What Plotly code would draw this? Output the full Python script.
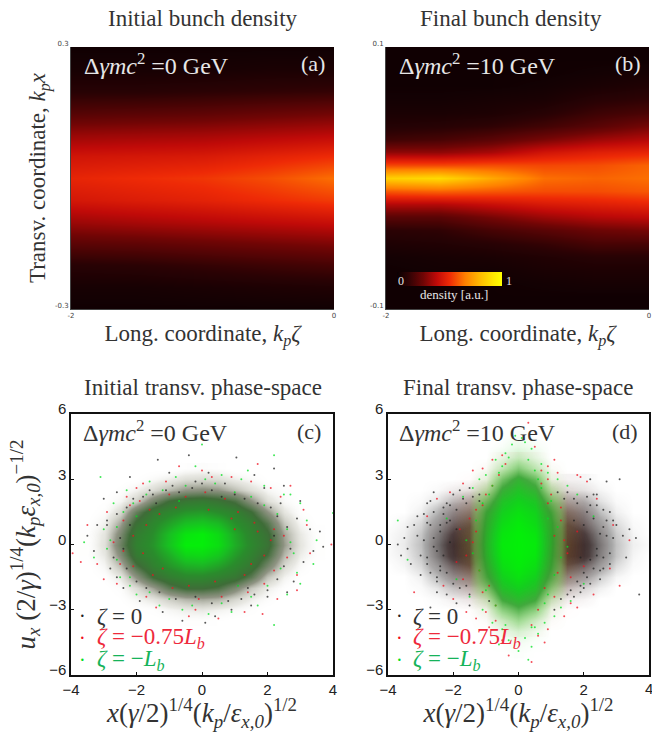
import plotly.graph_objects as go

W, H = 652, 732

# ---------- data ----------
a_zeta = [-2, -1.5, -1, -0.5, 0]
a_x = [0.30, 0.25, 0.20, 0.15, 0.10, 0.05, 0.00, -0.05, -0.10, -0.15, -0.20, -0.25, -0.30]
a_density = [
    [.02, .02, .02, .02, .02],
    [.04, .04, .04, .05, .05],
    [.09, .09, .10, .11, .12],
    [.19, .20, .21, .23, .25],
    [.31, .32, .33, .35, .37],
    [.42, .43, .44, .47, .50],
    [.48, .50, .52, .56, .62],
    [.43, .45, .47, .50, .53],
    [.32, .34, .36, .38, .40],
    [.20, .21, .23, .25, .27],
    [.09, .10, .12, .14, .16],
    [.04, .04, .05, .06, .07],
    [.02, .02, .02, .02, .02],
]

b_zeta = [-2, -1.6, -1.2, -0.8, -0.4, 0]
b_x = [0.10, 0.09, 0.08, 0.07, 0.06, 0.05, 0.04, 0.03, 0.02, 0.01, 0.00,
       -0.01, -0.02, -0.03, -0.04, -0.05, -0.06, -0.07, -0.08, -0.09, -0.10]
b_density = [
    [.02, .02, .02, .02, .02, .02],
    [.02, .02, .02, .02, .02, .02],
    [.02, .02, .02, .02, .03, .04],
    [.02, .02, .02, .03, .05, .07],
    [.03, .03, .04, .05, .09, .11],
    [.05, .05, .06, .09, .14, .17],
    [.08, .09, .11, .15, .20, .26],
    [.14, .16, .20, .26, .32, .36],
    [.30, .30, .34, .42, .46, .48],
    [.55, .55, .56, .55, .56, .60],
    [.85, .88, .75, .62, .60, .62],
    [.58, .60, .58, .56, .56, .58],
    [.36, .36, .40, .44, .46, .48],
    [.20, .20, .26, .32, .36, .38],
    [.10, .11, .16, .20, .24, .26],
    [.06, .07, .09, .12, .16, .16],
    [.03, .04, .05, .07, .09, .09],
    [.02, .03, .03, .05, .06, .06],
    [.02, .02, .02, .03, .04, .04],
    [.02, .02, .02, .02, .02, .02],
    [.02, .02, .02, .02, .02, .02],
]

c_grid_x = [-3.5, -3, -2.5, -2, -1.5, -1, -.5, 0, .5, 1, 1.5, 2, 2.5, 3, 3.5]
c_grid_y = [3.5, 3, 2.5, 2, 1.5, 1, .5, 0, -.5, -1, -1.5, -2, -2.5, -3, -3.5]
c_density = [
    [0, 0, 0, 0, 0, 0, .02, .03, .02, 0, 0, 0, 0, 0, 0],
    [0, 0, 0, .01, .04, .07, .11, .12, .11, .07, .04, .01, 0, 0, 0],
    [0, 0, .02, .06, .12, .19, .25, .27, .25, .18, .11, .05, .02, 0, 0],
    [0, .01, .05, .14, .32, .46, .52, .54, .50, .42, .26, .11, .04, .01, 0],
    [0, .03, .12, .36, .54, .62, .68, .70, .65, .58, .46, .26, .09, .02, 0],
    [.01, .06, .22, .48, .62, .72, .82, .85, .80, .66, .56, .40, .16, .05, .01],
    [.02, .09, .30, .56, .66, .82, .96, 1, .92, .74, .60, .48, .22, .08, .02],
    [.02, .10, .34, .58, .68, .84, 1, 1, .94, .76, .62, .50, .24, .09, .02],
    [.02, .08, .28, .54, .64, .76, .90, .92, .85, .70, .58, .44, .19, .07, .02],
    [0, .05, .18, .42, .58, .68, .76, .78, .72, .62, .52, .32, .12, .04, 0],
    [0, .02, .08, .26, .46, .56, .62, .62, .58, .52, .38, .17, .06, .01, 0],
    [0, 0, .03, .11, .23, .38, .46, .46, .42, .30, .16, .07, .02, 0, 0],
    [0, 0, .01, .05, .09, .15, .20, .22, .20, .13, .07, .03, 0, 0, 0],
    [0, 0, 0, .01, .02, .05, .07, .08, .06, .04, .02, 0, 0, 0, 0],
    [0, 0, 0, 0, 0, .01, .02, .02, .01, 0, 0, 0, 0, 0, 0],
]

d_black_x = [-4, -3.5, -3, -2.5, -2, -1.5, -1, -.5, 0, .5, 1, 1.5, 2, 2.5, 3, 3.5, 4]
d_black_y = [3, 2.5, 2, 1.5, 1, .5, 0, -.5, -1, -1.5, -2, -2.5, -3]
d_black = [
    [0, 0, 0, 0, 0, 0, 0, 0, 0, 0, 0, .02, .02, 0, 0, 0, 0],
    [0, 0, 0, .01, .03, .04, .02, 0, 0, 0, .03, .06, .05, .02, 0, 0, 0],
    [0, 0, .01, .05, .14, .18, .08, .02, 0, .02, .10, .20, .18, .06, .01, 0, 0],
    [0, 0, .03, .16, .32, .38, .24, .10, .05, .12, .30, .42, .34, .14, .03, 0, 0],
    [0, .02, .08, .26, .46, .56, .38, .20, .10, .20, .42, .58, .46, .24, .07, .01, 0],
    [.01, .03, .12, .36, .62, .70, .46, .25, .10, .25, .52, .74, .62, .34, .11, .02, 0],
    [.01, .04, .14, .42, .72, .82, .50, .25, .10, .25, .56, .84, .72, .40, .13, .03, .01],
    [.01, .03, .12, .38, .68, .80, .48, .22, .10, .22, .52, .82, .70, .36, .12, .02, 0],
    [0, .02, .08, .26, .48, .58, .36, .18, .10, .18, .36, .56, .46, .24, .07, .01, 0],
    [0, 0, .03, .14, .30, .34, .22, .10, .04, .10, .22, .32, .24, .10, .02, 0, 0],
    [0, 0, .01, .05, .12, .14, .06, .03, 0, .03, .07, .12, .08, .03, 0, 0, 0],
    [0, 0, 0, .01, .03, .04, .02, 0, 0, 0, .02, .03, .02, 0, 0, 0, 0],
    [0, 0, 0, 0, 0, 0, 0, 0, 0, 0, 0, 0, 0, 0, 0, 0, 0],
]

d_red_x = [-2.5, -2, -1.5, -1, -.5, 0, .5, 1, 1.5, 2, 2.5]
d_red_y = [4, 3.5, 3, 2.5, 2, 1.5, 1, .5, 0, -.5, -1, -1.5, -2, -2.5, -3, -3.5, -4]
d_red = [
    [0, 0, 0, 0, .03, .06, .03, 0, 0, 0, 0],
    [0, 0, 0, .02, .08, .14, .08, .02, 0, 0, 0],
    [0, 0, .02, .06, .20, .30, .20, .06, .02, 0, 0],
    [0, .02, .05, .18, .35, .45, .35, .16, .05, .02, 0],
    [0, .03, .12, .34, .50, .55, .50, .32, .10, .03, 0],
    [0, .05, .20, .50, .60, .60, .60, .48, .18, .05, 0],
    [.01, .06, .26, .62, .66, .60, .66, .60, .24, .06, .01],
    [.01, .07, .30, .70, .70, .60, .70, .68, .28, .07, .01],
    [.01, .07, .32, .75, .72, .60, .72, .72, .30, .07, .01],
    [.01, .07, .30, .70, .70, .60, .70, .68, .28, .07, .01],
    [.01, .06, .26, .60, .66, .60, .66, .58, .22, .06, .01],
    [0, .04, .18, .46, .58, .60, .58, .44, .14, .04, 0],
    [0, .02, .10, .30, .46, .52, .46, .26, .08, .02, 0],
    [0, .01, .04, .14, .30, .38, .30, .12, .03, .01, 0],
    [0, 0, .01, .05, .14, .20, .14, .05, .01, 0, 0],
    [0, 0, 0, .02, .06, .10, .06, .02, 0, 0, 0],
    [0, 0, 0, 0, .02, .03, .02, 0, 0, 0, 0],
]

d_green_x = [-2, -1.5, -1, -.5, 0, .5, 1, 1.5, 2]
d_green_y = [5, 4.5, 4, 3.5, 3, 2.5, 2, 1.5, 1, .5, 0, -.5, -1, -1.5, -2, -2.5, -3, -3.5, -4, -4.5, -5]
d_green = [
    [0, 0, 0, 0, .02, 0, 0, 0, 0],
    [0, 0, 0, .02, .07, .03, 0, 0, 0],
    [0, 0, 0, .07, .17, .08, 0, 0, 0],
    [0, 0, .02, .18, .38, .20, .02, 0, 0],
    [0, 0, .07, .42, .62, .46, .07, 0, 0],
    [0, .01, .20, .60, .74, .62, .20, .01, 0],
    [0, .02, .40, .74, .84, .76, .38, .02, 0],
    [0, .04, .55, .82, .92, .84, .52, .04, 0],
    [0, .06, .60, .88, .97, .88, .58, .06, 0],
    [0, .08, .64, .94, 1, .94, .60, .07, 0],
    [0, .10, .66, .97, 1, .97, .60, .07, 0],
    [0, .08, .64, .95, 1, .95, .58, .06, 0],
    [0, .05, .58, .90, .98, .90, .54, .05, 0],
    [0, .03, .50, .82, .92, .82, .46, .03, 0],
    [0, .01, .34, .72, .82, .72, .32, .01, 0],
    [0, 0, .15, .56, .68, .56, .15, 0, 0],
    [0, 0, .05, .36, .50, .36, .05, 0, 0],
    [0, 0, .01, .15, .30, .15, .01, 0, 0],
    [0, 0, 0, .05, .12, .05, 0, 0, 0],
    [0, 0, 0, .01, .04, .01, 0, 0, 0],
    [0, 0, 0, 0, .01, 0, 0, 0, 0],
]

c_black_x = [-0.4, 1.05, -1.35, -2.2, 1.6, 2.2, -1.0, 0.2, -2.6, -3.0, 2.5, 2.9, 3.3, 3.6, 3.7, 3.1, 2.8, -3.3, -3.5, -2.8, -2.4, -1.9, -1.2, -0.6, 0.4, 0.9, 1.5, 2.0, 2.6, 3.0, -0.2, 0.7, -1.6, 1.9, 2.4, -2.9, -3.2, 3.4, -0.9, 0.1,
             -2.5, -2.7, -2.9, -2.6, -2.3, -2.1, -1.8, -1.5, -1.1, -0.7, -0.3, 0.3, 0.6, 1.0, 1.3, 1.7, 2.1, 2.3, 2.6, 2.7, 2.5, 2.3, 2.0, 1.6, 1.2, 0.8, 0.3, -0.2, -0.8, -1.3, -1.7, -2.0, -2.3, -2.6, -2.4, 2.2, -1.4, 1.4, 0.0, -2.2]
c_black_y = [4.1, 4.0, 3.9, 3.1, 3.2, 3.5, 3.3, 3.3, 2.4, 2.1, 2.7, 1.2, 0.7, 0.6, -0.1, -0.8, -1.7, -0.3, 0.4, -1.1, -2.0, -2.6, -3.1, -3.5, -3.3, -3.0, -2.8, -2.4, -2.2, 2.0, 2.9, 2.8, 2.5, 2.6, 1.9, 1.1, 0.9, -0.3, 2.7, -3.6,
             0.3, -0.6, 0.9, 1.4, 1.7, 2.1, 2.2, 2.3, 2.5, 2.4, 2.6, 2.5, 2.2, 2.3, 2.1, 1.9, 1.7, 1.3, 0.8, -0.2, -1.0, -1.6, -2.1, -2.3, -2.5, -2.6, -2.7, -2.4, -2.5, -2.2, -2.0, -1.7, -1.1, -1.5, -0.2, 0.4, 1.9, -2.0, 2.8, 0.9]
c_red_x = [1.7, 3.95, -3.95, -3.7, 1.85, 0.0, -0.7, 2.7, 3.1, 2.9, -3.5, -3.2, -2.9, -2.3, -1.8, -1.1, -0.4, 0.5, 1.3, 2.3, 2.9, 3.2, 3.3, -3.0, -2.6, -2.0, -1.4, 0.9, 1.5, 2.4, -0.2, 0.3, -1.7, 2.1,
           -2.4, -2.7, -2.5, -2.2, -1.9, -1.6, -1.0, -0.5, 0.1, 0.7, 1.1, 1.6, 2.2, 2.5, 2.6, 2.2, 1.9, 1.4, 0.6, -0.1, -0.9, -1.5, -2.1, -2.4, -2.1, -1.7, -1.3, -0.8, 0.2, 0.9, 1.5, 1.9, 2.1, 1.7, 1.3, -1.2, -1.8, 0.4, -0.4, 1.0]
c_red_y = [3.7, 0.0, -0.4, -0.8, -3.2, 3.4, 3.6, 2.7, 1.6, -1.4, 0.9, -0.9, 1.5, 2.2, 2.8, 2.9, -3.3, -3.4, -3.1, -2.5, -2.1, 0.9, -0.4, -1.6, -1.8, 2.6, -2.9, 3.1, 2.9, 2.2, -3.0, 3.1, -2.4, 2.6,
           1.1, 0.1, -0.9, 1.8, 2.0, 1.6, 2.3, 2.2, 2.4, 2.1, 1.5, 1.0, 0.7, 0.4, -0.6, -1.2, -1.8, -2.2, -2.4, -2.5, -2.0, -1.4, -1.0, -0.3, 0.4, 0.9, 1.4, 1.7, 1.6, 1.2, -0.9, -0.5, 0.2, 0.6, -1.4, -1.1, -0.4, -1.7, -1.9, 0.7]
c_green_x = [0.0, -3.1, 2.2, 4.0, 2.2, 3.5, 3.0, 2.7, -3.6, -3.3, -2.7, -2.3, -1.6, -0.8, 0.6, 1.2, 1.9, 2.5, 3.2, 3.4, 3.0, 2.6, 1.7, 0.9, 0.2, -0.6, -1.3, -2.0, -2.5, -3.0, -2.2, 1.4, -0.2, 2.9,
             -2.8, -2.6, -2.4, -2.1, -1.7, -1.2, -0.5, 0.4, 1.0, 1.5, 1.9, 2.3, 2.6, 2.8, 2.4, 2.0, 1.5, 0.6, -0.3, -1.0, -1.6, -2.2, -2.6, -2.9, 2.7, -2.0, 1.1, -0.7, 0.1]
c_green_y = [4.6, 3.1, 4.1, 1.45, -3.7, 0.2, 1.9, 2.3, 0.1, -0.6, 1.9, 2.5, 2.9, 3.1, 3.2, 3.0, 2.7, 2.3, 1.1, -0.9, -1.8, -2.3, -2.8, -3.1, -3.2, -3.0, -2.8, -2.3, -1.5, 0.7, -1.9, 3.4, 3.6, -1.3,
             0.2, 0.8, 1.5, 1.9, 2.3, 2.5, 2.7, 2.8, 2.4, 2.2, 1.8, 1.4, 0.7, -0.4, -1.1, -1.9, -2.4, -2.7, -2.8, -2.5, -2.2, -1.5, -0.7, -0.2, 0.1, 1.3, -1.9, 2.0, 3.0]

d_black_px = [-3.7, -3.6, -3.5, -3.4, -3.3, -3.2, -3.1, -3.0, -2.9, -2.8, -2.7, -2.6, -2.5, -2.4, -3.4, -3.0, -2.7, -3.1, -2.8, -2.6, -2.3, -2.2, -2.0, -1.8, -1.5, -1.2, -0.9, 3.1, 3.2, 3.4, 3.6, 3.7, 3.3, 3.0, 2.9, 2.8, 2.6, 2.5, 2.4, 2.3, 2.7, 2.6, 2.2, 2.1, 1.9, 1.7, 1.5, 2.2, 2.7, 2.0, 1.3, -2.7, -2.5, -2.2, -1.9, -1.5, 1.1, 1.8,
              -2.9, -2.7, -2.6, -2.5, -2.4, -2.3, -2.6, -2.8, -2.4, -2.2, -2.5, -2.3, -2.1, -2.0, -1.9, -2.2, -1.7, -1.9, -1.6, -1.4, -2.4, -2.1, -1.8, -1.5, -1.2,
              2.9, 2.8, 2.6, 2.5, 2.4, 2.3, 2.7, 2.5, 2.4, 2.2, 2.3, 2.1, 2.0, 1.9, 2.2, 1.7, 1.9, 1.6, 1.4, 2.4, 2.1, 1.8, 1.5, 1.2, 2.8, 2.6, 2.0, 1.7, -2.8, -2.1, -1.6]
d_black_py = [0.0, -0.5, 0.3, 0.8, -0.9, 0.9, 0.4, -1.4, 1.4, 1.9, 2.0, 2.4, -1.7, -1.2, -0.2, -0.5, 0.9, 1.3, -0.9, -0.1, 1.7, 1.9, 2.3, 2.5, 2.6, 2.0, -2.6, 3.0, 0.4, 0.7, 0.3, -2.3, -0.6, 0.9, 1.1, -0.4, 1.6, -1.2, 2.3, 2.3, 1.1, -0.6, -1.8, 2.2, -2.2, -2.4, 2.4, 3.0, 2.9, -2.0, -2.5, -2.9, -2.2, -2.3, -2.7, -2.8, -3.0, -1.7,
              0.2, -1.3, 1.5, -0.3, 0.6, 1.4, 0.3, -0.6, -1.0, 1.0, -1.5, -0.5, 1.8, -1.8, 1.6, -1.3, 2.1, 0.7, 1.9, 2.2, 0.9, 0.1, -2.0, -2.3, 2.3,
              0.3, 1.5, -1.1, 0.5, -0.2, 1.2, 0.4, -1.6, 1.8, -0.7, -1.1, 1.5, 0.9, -1.9, 1.8, 2.1, -0.6, -2.1, 2.1, -0.5, -1.5, 1.9, -2.3, 2.4, -0.9, 0.8, -1.3, 1.1, 1.0, 1.1, -1.9]
d_red_px = [-3.2, -2.8, -2.5, -2.1, -1.7, -1.4, -1.1, -0.8, 0.9, 1.2, 1.8, 2.1, 2.4, 2.9, 3.4, 3.1, -2.3, -2.0, -1.6, -1.3, -0.9, -0.5, 0.6, 0.9, 1.4, 1.8, 2.3, 2.8, 0.5, -0.5, 0.3, 1.1, 1.9, -1.0, 0.8, -0.3, 0.4, 1.6,
            -1.5, -1.3, -1.1, -1.6, -1.2, -0.9, -1.4, -1.0, -1.7, -1.3, -0.8, -1.1, -0.7, -0.6, 1.3, 1.1, 0.9, 1.5, 1.2, 0.8, 1.4, 1.0, 1.6, 1.3, 0.7, 1.1, 0.6, 0.9, -1.8, -1.9, 1.8, 2.0, -0.7, 0.7, -0.4, 0.4]
d_red_py = [-2.2, 1.3, 2.1, 2.4, 2.8, 3.4, 3.5, 3.9, 3.6, 3.3, 3.2, 2.9, 2.1, 0.9, 0.2, -1.9, -1.9, -2.5, -3.1, -3.4, -3.8, -4.4, -4.2, -3.9, -3.3, -2.9, -2.3, -1.1, 4.5, 4.1, 5.6, 3.9, 3.1, -3.1, -4.5, -5.1, -5.4, -2.7,
            1.2, 0.6, 1.8, -0.5, -1.2, -1.9, 0.1, 2.3, -1.6, 1.6, 2.7, -2.2, -2.8, 3.2, 1.1, 0.4, 1.9, -0.4, -1.3, -2.0, 0.2, 2.3, -1.5, 1.7, 2.8, -2.4, -3.0, 3.0, 0.7, -0.8, 0.6, -1.0, -3.5, 3.4, 3.7, -3.7]
d_green_px = [-0.1, 0.2, 0.4, -0.4, -0.7, 0.7, 0.9, -1.0, -1.2, 1.2, -1.4, 1.5, -1.7, 1.8, -3.7, -3.4, -0.8, -0.5, 0.6, 0.8, 1.1, -1.1, 0.4, 0.0, -0.3, 0.2, 0.5, -0.6, 1.3, 1.6, 2.0, -1.5, -1.9, -2.2, 2.3, 0.1, -0.2, 0.3,
              -1.3, -1.1, -1.4, -1.2, -1.0, 1.2, 1.0, 1.3, 1.1, 0.9, -0.8, -0.6, -0.5, 0.6, 0.7, 0.5, -0.7, 0.8, -0.9, 0.9, -0.3, 0.3, -0.4, 0.4, -1.6, 1.5]
d_green_py = [5.0, 4.7, 4.4, 4.2, 3.9, 3.7, 3.3, 3.2, 3.0, 3.0, 2.6, 2.7, 2.2, 2.3, 1.1, -0.7, -3.6, -3.9, -4.1, -3.6, -3.3, -3.0, -4.7, -4.9, -4.4, -4.3, -3.8, -4.6, -2.9, -2.6, -1.8, -2.4, -1.6, 1.2, 1.3, 4.9, 4.6, -5.3,
              1.1, 1.9, -0.4, -1.2, -2.1, 0.8, 2.0, -0.6, -1.4, -2.3, 2.7, 3.3, 3.6, 3.0, 2.6, 3.4, -2.8, -2.7, 2.3, 1.2, 4.0, 3.9, -3.7, -3.8, 0.2, -0.1]

legend_names = ["<i>ζ</i> = 0", "<i>ζ</i> = −0.75<i>L<sub>b</sub></i>", "<i>ζ</i> = −<i>L<sub>b</sub></i>"]
energy_labels = ["Δ<i>γmc</i><sup>2</sup> =0 GeV", "Δ<i>γmc</i><sup>2</sup> =10 GeV"]

# ---------- styles ----------
SERIF = "Liberation Serif"
SANS = "Liberation Sans"
TXT = "#333333"
HOT = [[0, "#0a0002"], [.1, "#2a0204"], [.25, "#700505"], [.38, "#c00a08"], [.5, "#ee2a06"],
       [.65, "#ff8000"], [.8, "#ffbe00"], [.92, "#ffe800"], [1, "#ffff00"]]
MIX = [[0, "rgba(255,255,255,0)"], [.08, "rgba(190,190,175,.35)"], [.25, "rgba(115,120,100,.8)"],
       [.45, "#3f6c38"], [.65, "#2a8c2c"], [.82, "#19bf22"], [1, "#05ee0a"]]
BLK = [[0, "rgba(20,20,20,0)"], [.2, "rgba(60,60,60,.45)"], [.6, "rgba(35,30,30,.85)"], [1, "rgba(15,10,10,.98)"]]
RED = [[0, "rgba(230,40,40,0)"], [.3, "rgba(215,60,50,.3)"], [1, "rgba(190,30,25,.7)"]]
GRN = [[0, "rgba(90,220,80,0)"], [.25, "rgba(90,210,80,.5)"], [.55, "rgba(45,165,45,.9)"],
       [.8, "#16cc20"], [1, "#03f008"]]
COLORS = ["#222222", "#f01020", "#00e020"]
LEG_COLORS = ["#333333", "#ee2a3c", "#16b35a"]

fig = go.Figure()

def heat(x, y, z, scale, xa, ya, **kw):
    fig.add_trace(go.Heatmap(x=x, y=y, z=z, zmin=0, zmax=1, colorscale=scale, zsmooth="best",
                             xaxis=xa, yaxis=ya, showscale=kw.pop("showscale", False),
                             hoverinfo="skip", **kw))

def dots(x, y, i, xa, ya):
    fig.add_trace(go.Scatter(x=x, y=y, mode="markers", name=legend_names[i], xaxis=xa, yaxis=ya,
                             marker=dict(size=2, color=COLORS[i], opacity=.75), showlegend=False))

heat(a_zeta, a_x, a_density, HOT, "x", "y")
heat(b_zeta, b_x, b_density, HOT, "x2", "y2", showscale=True, colorbar=dict(
    orientation="h", x=397 / W, xanchor="left", y=1 - 272 / H, yanchor="top",
    thickness=14, thicknessmode="pixels", len=105, lenmode="pixels",
    outlinewidth=0, showticklabels=False, ticks="", xpad=0, ypad=0))
heat(c_grid_x, c_grid_y, c_density, MIX, "x3", "y3")
dots(c_black_x, c_black_y, 0, "x3", "y3")
dots(c_red_x, c_red_y, 1, "x3", "y3")
dots(c_green_x, c_green_y, 2, "x3", "y3")
heat(d_black_x, d_black_y, d_black, BLK, "x4", "y4")
heat(d_red_x, d_red_y, d_red, RED, "x4", "y4")
heat(d_green_x, d_green_y, d_green, GRN, "x4", "y4")
dots(d_black_px, d_black_py, 0, "x4", "y4")
dots(d_red_px, d_red_py, 1, "x4", "y4")
dots(d_green_px, d_green_py, 2, "x4", "y4")

def xdom(l, r): return [l / W, r / W]
def ydom(t, b): return [1 - b / H, 1 - t / H]

small = dict(ticks="", showgrid=False, zeroline=False, showline=True, linecolor="#444", linewidth=1,
             tickfont=dict(family="DejaVu Sans", size=7, color="#444"), automargin=False)
big = dict(ticks="inside", ticklen=3, tickcolor="#111", showgrid=False, zeroline=False, showline=True,
           mirror=True, linecolor="#111", linewidth=1.5,
           tickfont=dict(family=SANS, size=15, color="#222"), automargin=False)
tfont = dict(family=SERIF, size=23, color=TXT)
psfont = dict(family=SERIF, size=27, color=TXT)
ZETA = "Long. coordinate, <i>k<sub>p</sub>ζ</i>"
XPS = "<i>x</i>(<i>γ</i>/2)<sup>1/4</sup>(<i>k<sub>p</sub></i>/<i>ε<sub>x,0</sub></i>)<sup>1/2</sup>"
YPS = "<i>u<sub>x</sub></i> (2/<i>γ</i>)<sup>1/4</sup>(<i>k<sub>p</sub>ε<sub>x,0</sub></i>)<sup>−1/2</sup>"

layout = dict(
    width=W, height=H, margin=dict(l=0, r=0, t=0, b=0), paper_bgcolor="white", plot_bgcolor="white",
    xaxis=dict(domain=xdom(71, 334), range=[-2, 0], tickvals=[-2, 0], ticktext=["-2", "0"],
               title=dict(text=ZETA, font=tfont, standoff=5), **small),
    yaxis=dict(domain=ydom(47, 309), range=[-.3, .3], tickvals=[-.3, .3], ticktext=["-0.3", "0.3"], ticklabelshift=-3,
               title=dict(text="Transv. coordinate, <i>k<sub>p</sub>x</i>", font=tfont, standoff=2), **small),
    xaxis2=dict(domain=xdom(386, 649), range=[-2, 0], tickvals=[-2, 0], ticktext=["-2", "0"], anchor="y2",
                title=dict(text=ZETA, font=tfont, standoff=5), **small),
    yaxis2=dict(domain=ydom(47, 309), range=[-.1, .1], tickvals=[-.1, .1], ticktext=["-0.1", "0.1"], ticklabelshift=-3, anchor="x2", **small),
    xaxis3=dict(domain=xdom(71, 333), range=[-4, 4], tickvals=[-4, -2, 0, 2, 4], anchor="y3",
                title=dict(text=XPS, font=psfont, standoff=6), **big),
    yaxis3=dict(domain=ydom(414, 675), range=[-6, 6], tickvals=[-6, -3, 0, 3, 6], ticklabelshift=-5, anchor="x3",
                title=dict(text=YPS, font=psfont, standoff=6), **big),
    xaxis4=dict(domain=xdom(388, 649), range=[-4, 4], tickvals=[-4, -2, 0, 2, 4], anchor="y4",
                title=dict(text=XPS, font=psfont, standoff=6), **big),
    yaxis4=dict(domain=ydom(414, 675), range=[-6, 6], tickvals=[-6, -3, 0, 3, 6], ticklabelshift=-5, anchor="x4", **big),
)
fig.update_layout(**layout)

def label(text, x, y, size=20, color=TXT, family=SERIF, anchor="center"):
    fig.add_annotation(text=text, x=x / W, y=1 - y / H, xref="paper", yref="paper", showarrow=False,
                       xanchor=anchor, yanchor="middle", font=dict(family=family, size=size, color=color))

label("Initial bunch density", 203, 18, 23)
label("Final bunch density", 511, 18, 23)
label("Initial transv. phase-space", 203, 387, 23)
label("Final transv. phase-space", 518, 387, 23)
LIGHT = "#e6e6e6"
label(energy_labels[0], 82, 64, 24, LIGHT, anchor="left")
label("(a)", 313, 64, 22, LIGHT)
label(energy_labels[1], 397, 64, 24, LIGHT, anchor="left")
label("(b)", 628, 64, 22, LIGHT)
label(energy_labels[0], 81, 431, 24, TXT, anchor="left")
label("(c)", 309, 431, 22, TXT)
label(energy_labels[1], 397, 431, 24, TXT, anchor="left")
label("(d)", 625, 431, 22, TXT)
label("0", 401, 281, 12, LIGHT)
label("1", 509, 281, 12, LIGHT)
label("density [a.u.]", 454, 294, 13, LIGHT)
label("4", 649, 688, 15, "#222", SANS)

# key of the phase-space panels: dot + coloured text, three rows
for x0 in (83, 399):
    for i, y0 in enumerate((616, 638, 660)):
        label("·", x0, y0, 20, COLORS[i] if i else "#222")
        label(legend_names[i], x0 + 12, y0, 23, LEG_COLORS[i], anchor="left")

fig.write_html("out.html", config=dict(displayModeBar=False),
               post_script="document.body.style.margin='0';document.body.style.overflow='hidden';")
